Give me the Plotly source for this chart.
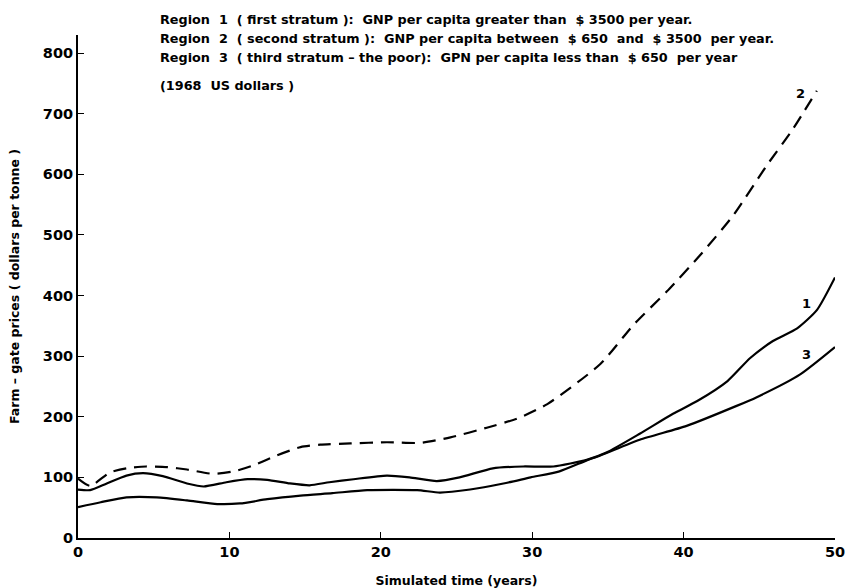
import plotly.graph_objects as go

# Region 2 (dashed)
x2 = [0, 0.8, 2.1, 3.2, 4.5, 5.9, 7.2, 8.9, 10.3, 11.6, 13.1, 14.7, 16, 18, 20.4, 22.6, 24.6, 27, 29, 31, 34.5, 36.7, 38.9, 41.1, 43.3, 45.5, 47.2, 48.8]
y2 = [98, 86, 108, 115, 118, 117, 113, 106, 110, 120, 136, 150, 154, 156, 158, 157, 166, 182, 197, 221, 287, 352, 407, 467, 533, 615, 674, 738]

# Region 1
x1 = [0, 0.8, 1.9, 3.2, 4.3, 5.6, 7.2, 8.3, 9.8, 11.2, 12.5, 14, 15.3, 16.6, 18.2, 20.4, 21.9, 23.7, 25.2, 27.4, 29.4, 31.4, 33.6, 34.9, 37.1, 39.3, 40.9, 42.9, 44.4, 45.9, 47.5, 48.8, 50]
y1 = [80, 79, 90, 103, 107, 102, 90, 85, 92, 97, 96, 90, 87, 92, 97, 103, 100, 94, 100, 115, 118, 118, 129, 141, 172, 205, 226, 259, 297, 325, 346, 376, 430]

# Region 3
x3 = [0, 1.5, 3.2, 5.2, 7.2, 9.2, 10.7, 12.5, 14.7, 16.8, 19.1, 22.4, 23.9, 25.9, 28.1, 29.9, 31.8, 33.6, 34.5, 37.1, 40.2, 43.5, 44.8, 47.7, 50]
y3 = [51, 59, 67, 67, 62, 56, 57, 64, 70, 74, 79, 79, 75, 80, 90, 100, 110, 128, 136, 162, 185, 218, 232, 270, 315]

x_ticks = [0, 10, 20, 30, 40, 50]
y_ticks = [0, 100, 200, 300, 400, 500, 600, 700, 800]

header_lines = [
    "Region  1  ( first stratum ):  GNP per capita greater than  $ 3500 per year.",
    "Region  2  ( second stratum ):  GNP per capita between  $ 650  and  $ 3500  per year.",
    "Region  3  ( third stratum – the poor):  GPN per capita less than  $ 650  per year",
    "(1968  US dollars )",
]

FONT = "DejaVu Sans"
line = dict(color="black", width=2.2, shape="spline", smoothing=0.6)

fig = go.Figure()
fig.add_trace(go.Scatter(x=x2, y=y2, mode="lines", line=dict(line, dash="13px,8px")))
fig.add_trace(go.Scatter(x=x1, y=y1, mode="lines", line=line))
fig.add_trace(go.Scatter(x=x3, y=y3, mode="lines", line=line))

annos = []
for yy, txt in zip([1.030, 0.994, 0.956, 0.900], header_lines):
    annos.append(dict(x=0.1057, y=yy, xref="paper", yref="paper", text=txt, showarrow=False,
                      xanchor="left", yanchor="middle",
                      font=dict(family=FONT, size=12.8, color="black", weight=700)))
for lab, xx, yy in [("2", 47.7, 734), ("1", 48.1, 387), ("3", 48.1, 302)]:
    annos.append(dict(x=xx, y=yy, text=lab, showarrow=False, xanchor="center", yanchor="middle",
                      font=dict(family=FONT, size=13, color="black", weight=700)))

fig.update_layout(
    width=847, height=588,
    margin=dict(l=78, r=12, t=35, b=50),
    paper_bgcolor="white", plot_bgcolor="white",
    showlegend=False,
    font=dict(family=FONT, color="black", size=14),
    annotations=annos,
    xaxis=dict(range=[0, 50], tickvals=x_ticks, ticks="inside", ticklen=6, tickwidth=1.2,
               tickcolor="black", showline=True, linecolor="black", linewidth=2,
               showgrid=False, zeroline=False, automargin=False,
               tickfont=dict(family=FONT, size=14.5, color="black", weight=700),
               title=dict(text="Simulated time (years)", standoff=21,
                          font=dict(family=FONT, size=12.5, color="black", weight=700))),
    yaxis=dict(range=[0, 830], tickvals=y_ticks, ticks="inside", ticklen=6, tickwidth=1.2,
               tickcolor="black", showline=True, linecolor="black", linewidth=2,
               showgrid=False, zeroline=False, automargin=False,
               tickfont=dict(family=FONT, size=14.5, color="black", weight=700),
               title=dict(text="Farm – gate prices ( dollars per tonne )", standoff=20,
                          font=dict(family=FONT, size=12.5, color="black", weight=700))),
)

fig.write_html("out.html", config={"displayModeBar": False},
               post_script="document.body.style.margin='0px';")
